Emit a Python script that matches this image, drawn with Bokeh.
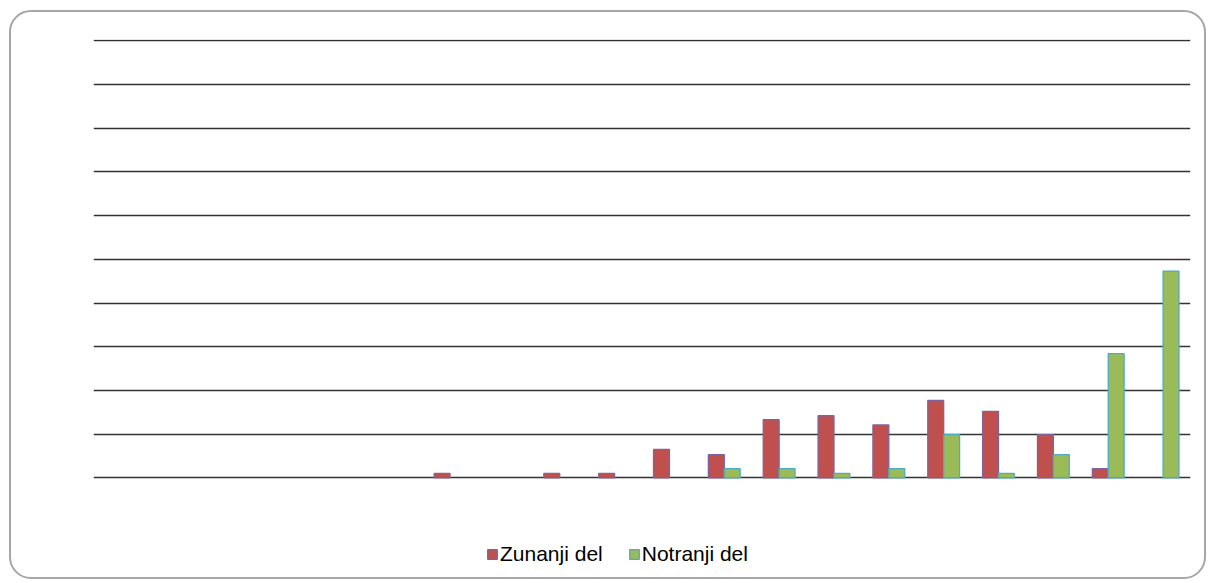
from bokeh.plotting import figure
from bokeh.models import FactorRange, Range1d, Grid, FixedTicker, Legend, LegendItem, ColumnDataSource
from bokeh.transform import dodge
from bokeh.embed import file_html
from bokeh.resources import INLINE

categories = [str(i) for i in range(1, 21)]
zunanji = [0, 0, 0, 0, 0, 0, 1, 0, 1, 1, 6.5, 5.3, 13.3, 14.2, 12.1, 17.7, 15.2, 9.9, 2.1, 0]
notranji = [0, 0, 0, 0, 0, 0, 0, 0, 0, 0, 0, 2.1, 2.1, 1.0, 2.1, 9.9, 1.0, 5.3, 28.4, 47.3]
grid_ticks = list(range(0, 101, 10))


def nonzero(vals):
    cats = [c for c, v in zip(categories, vals) if v > 0]
    tops = [v for v in vals if v > 0]
    return ColumnDataSource(dict(cat=cats, top=tops))


src_z = nonzero(zunanji)
src_n = nonzero(notranji)

p = figure(width=1197, height=569, output_backend="svg", toolbar_location=None,
           x_range=FactorRange(*categories, range_padding=0), y_range=Range1d(-23.73, 100.3),
           x_axis_type=None, y_axis_type=None,
           min_border_left=82, min_border_right=18, min_border_top=27, min_border_bottom=0)
p.styles = {"border": "2px solid #a6a6a6", "border-radius": "22px",
            "margin-left": "9px", "margin-top": "10px"}
p.border_fill_color = None
p.background_fill_color = None
p.outline_line_color = None

g = Grid(dimension=1, ticker=FixedTicker(ticks=grid_ticks), grid_line_color="#333333", grid_line_width=1.3)
p.add_layout(g)

r1 = p.vbar(x=dodge("cat", -0.145, range=p.x_range), top="top", width=0.29, source=src_z,
            fill_color="#C0504D", line_color="#7E649E", line_width=1.3)
r2 = p.vbar(x=dodge("cat", 0.145, range=p.x_range), top="top", width=0.29, source=src_n,
            fill_color="#9BBB59", line_color="#4BACC6", line_width=1.3)

legend = Legend(items=[LegendItem(label="Zunanji del", renderers=[r1]),
                       LegendItem(label="Notranji del", renderers=[r2])],
                orientation="horizontal", location=(393, 15),
                glyph_width=12, glyph_height=12, label_standoff=2, spacing=25,
                padding=0, margin=0, border_line_color=None, background_fill_alpha=0,
                label_text_font="Liberation Sans", label_text_font_size="21px",
                label_text_color="#000000")
p.add_layout(legend, "center")

open("out.html", "w").write(file_html(p, INLINE))
